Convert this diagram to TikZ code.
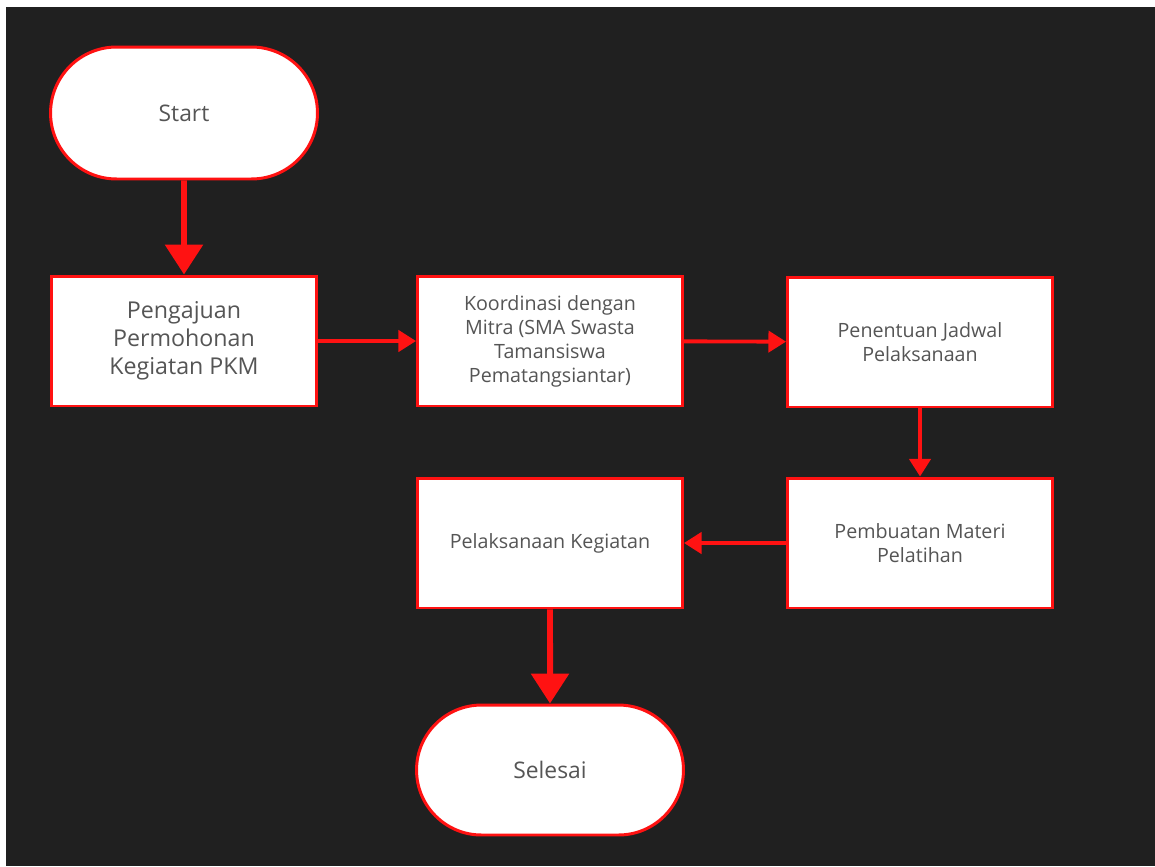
\documentclass[tikz,border=0pt]{standalone}
\usepackage{fontspec}
\setmainfont{Open Sans}
\usetikzlibrary{shapes.misc,arrows.meta}
\definecolor{bgdark}{HTML}{202020}
\definecolor{flowred}{HTML}{FF1212}
\definecolor{txtgrey}{HTML}{555555}
\tikzset{
  terminal/.style={draw=flowred, line width=1.7pt, fill=white, rounded rectangle, minimum width=5.34cm, minimum height=2.64cm, inner sep=0pt, text=txtgrey, font=\fontsize{13}{16}\selectfont},
  process/.style={draw=flowred, line width=1.7pt, fill=white, rectangle, minimum width=5.3cm, minimum height=2.6cm, inner sep=0pt, align=center, text=txtgrey, font=\fontsize{11.2}{13.7}\selectfont},
  bigflow/.style={draw=flowred, line width=3.4pt, -{Triangle[width=21pt,length=17pt]}},
  flow/.style={draw=flowred, line width=2.2pt, -{Triangle[width=12pt,length=10pt]}}
}
\begin{document}
\begin{tikzpicture}[x=0.02cm,y=-0.02cm]
\fill[white] (0,0) rectangle (1155,866);
\fill[bgdark] (6,7) rectangle (1155,866);

\node[terminal] (start) at (184,113) {Start};
\node[process, font=\fontsize{13.2}{16}\selectfont] (pengajuan) at (184,341) {Pengajuan\\Permohonan\\Kegiatan PKM};
\node[process] (koordinasi) at (550,341) {Koordinasi dengan\\Mitra (SMA Swasta\\Tamansiswa\\Pematangsiantar)};
\node[process] (jadwal) at (920,342) {Penentuan Jadwal\\Pelaksanaan};
\node[process] (materi) at (920,543) {Pembuatan Materi\\Pelatihan};
\node[process] (pelaksanaan) at (550,543) {Pelaksanaan Kegiatan};
\node[terminal, minimum height=2.6cm] (selesai) at (550,770) {Selesai};

\draw[bigflow] (start) -- (pengajuan);
\draw[flow] (pengajuan) -- (koordinasi);
\draw[flow] (koordinasi) -- (jadwal);
\draw[flow] (jadwal) -- (materi);
\draw[flow] (materi) -- (pelaksanaan);
\draw[bigflow] (pelaksanaan) -- (selesai);
\end{tikzpicture}
\end{document}
